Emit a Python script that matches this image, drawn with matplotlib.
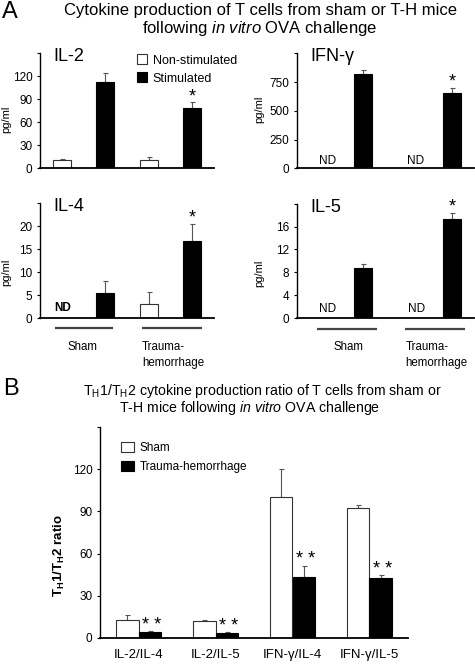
import numpy as np
import matplotlib
matplotlib.use('Agg')
import matplotlib.pyplot as plt
from matplotlib.patches import Patch
from matplotlib.transforms import blended_transform_factory

plt.rcParams['font.family'] = ['Liberation Sans', 'DejaVu Sans']
plt.rcParams['mathtext.fontset'] = 'custom'
plt.rcParams['mathtext.rm'] = 'Liberation Sans'
plt.rcParams['mathtext.it'] = 'Liberation Sans:italic'
plt.rcParams['mathtext.bf'] = 'Liberation Sans:bold'

# ---------------- data ----------------
groups = ['Sham', 'Trauma-hemorrhage']
series_a = ['Non-stimulated', 'Stimulated']

il2_nonstim = [11, 11]
il2_nonstim_err = [1.7, 3.5]
il2_stim = [112, 78]
il2_stim_err = [12, 8]

ifn_nonstim = [np.nan, np.nan]          # ND
ifn_nonstim_err = [0, 0]
ifn_stim = [816, 657]
ifn_stim_err = [43, 40]

il4_nonstim = [np.nan, 3.1]             # sham ND
il4_nonstim_err = [0, 2.6]
il4_stim = [5.6, 16.7]
il4_stim_err = [2.5, 3.8]

il5_nonstim = [np.nan, np.nan]          # ND
il5_nonstim_err = [0, 0]
il5_stim = [8.8, 17.3]
il5_stim_err = [0.7, 1.1]

stim_sig = [False, True]

il2_ticks = [0, 30, 60, 90, 120, 150]
ifn_ticks = [0, 250, 500, 750, 1000]
il4_ticks = [0, 5, 10, 15, 20, 25]
il5_ticks = [0, 4, 8, 12, 16, 20]

ratio_labels = ['IL-2/IL-4', 'IL-2/IL-5', 'IFN-γ/IL-4', 'IFN-γ/IL-5']
series_b = ['Sham', 'Trauma-hemorrhage']
sham_ratio = [12.9, 12.1, 100.5, 92.6]
sham_ratio_err = [3.1, 0.4, 19.5, 1.9]
th_ratio = [4.3, 3.8, 43.3, 42.6]
th_ratio_err = [0.4, 0.3, 8.1, 1.9]
th_sig = [True, True, True, True]
ratio_ticks = [0, 30, 60, 90, 120, 150]

# ---------------- figure ----------------
W, H = 475, 665
fig = plt.figure(figsize=(W / 100, H / 100), dpi=100)


def box(x0, y0, x1, y1):
    return [x0 / W, 1 - y1 / H, (x1 - x0) / W, (y1 - y0) / H]


ERR_C = '#555555'


def style_axis(ax, ticks, ylab_xy, ylabel='pg/ml', ylab_size=8):
    for s in ['top', 'right']:
        ax.spines[s].set_visible(False)
    ax.spines['left'].set_linewidth(1.0)
    ax.spines['bottom'].set_linewidth(1.3)
    ax.set_xlim(-0.5, 3.5)
    ax.set_ylim(ticks[0], ticks[-1])
    ax.set_yticks(ticks)
    ax.set_yticklabels([str(t) for t in ticks[:-1]] + [''])
    ax.set_xticks([])
    ax.tick_params(axis='y', direction='out', length=2.5, width=0.8,
                   labelsize=8.5, pad=3)
    ax.set_ylabel(ylabel, fontsize=ylab_size)
    ax.yaxis.set_label_coords(*ylab_xy)


def draw_a(ax, nonstim, nonstim_err, stim, stim_err, ticks, title,
           ylab_xy, nd_x, nd_y, nd_bold=False):
    pos_ns = np.array([0, 2])
    pos_s = np.array([1, 3])
    ns = np.array(nonstim, dtype=float)
    ok = ~np.isnan(ns)
    w = 0.41
    ax.bar(pos_ns[ok], ns[ok], width=w, color='white', edgecolor='#333333',
           linewidth=0.8, zorder=2)
    ax.errorbar(pos_ns[ok], ns[ok],
                yerr=[np.zeros(ok.sum()), np.array(nonstim_err)[ok]],
                fmt='none', ecolor=ERR_C, elinewidth=0.8, capsize=1.8,
                capthick=0.8, zorder=1)
    ax.bar(pos_s, stim, width=w, color='black', edgecolor='black',
           linewidth=0.8, zorder=2)
    ax.errorbar(pos_s, stim, yerr=[np.zeros(2), stim_err], fmt='none',
                ecolor=ERR_C, elinewidth=0.8, capsize=1.8, capthick=0.8,
                zorder=1)
    for p, v, e, sig in zip(pos_s, stim, stim_err, stim_sig):
        if sig:
            ax.annotate('*', (p, v + e), xytext=(0, -2),
                        textcoords='offset points', ha='center',
                        va='bottom', fontsize=13, clip_on=False)
    trans = blended_transform_factory(ax.transData, ax.transAxes)
    for i in np.where(~ok)[0]:
        ax.text(pos_ns[i] + nd_x, nd_y, 'ND', transform=trans, ha='center',
                va='center', fontsize=8.5,
                fontweight='bold' if nd_bold else 'normal')
    ax.text(0.075, 0.93, title, transform=ax.transAxes, fontsize=13,
            ha='left', va='baseline')
    style_axis(ax, ticks, ylab_xy)


ax1 = fig.add_axes(box(40, 53.3, 214, 168.3))
ax2 = fig.add_axes(box(297, 53.3, 474, 168.3))
ax3 = fig.add_axes(box(40, 203.3, 214, 318.3))
ax4 = fig.add_axes(box(297, 203.5, 474, 318.5))

draw_a(ax1, il2_nonstim, il2_nonstim_err, il2_stim, il2_stim_err, il2_ticks,
       'IL-2', (-0.163, 0.43), 0, 0)
draw_a(ax2, ifn_nonstim, ifn_nonstim_err, ifn_stim, ifn_stim_err, ifn_ticks,
       'IFN-γ', (-0.183, 0.51), 0.19, 0.06)
draw_a(ax3, il4_nonstim, il4_nonstim_err, il4_stim, il4_stim_err, il4_ticks,
       'IL-4', (-0.163, 0.40), 0.03, 0.09, nd_bold=True)
draw_a(ax4, il5_nonstim, il5_nonstim_err, il5_stim, il5_stim_err, il5_ticks,
       'IL-5', (-0.183, 0.39), 0.2, 0.08)

# legend panel A
h_a = [Patch(facecolor='white', edgecolor='#333333', linewidth=0.8),
       Patch(facecolor='black', edgecolor='black', linewidth=0.8)]
ax1.legend(h_a, series_a, loc='upper left', bbox_to_anchor=(0.555, 0.99),
           frameon=False, fontsize=9, handlelength=0.85, handleheight=0.85,
           handletextpad=0.45, labelspacing=0.45, borderpad=0,
           borderaxespad=0)

# group lines & labels under the bottom panels
for ax, lines, sham_x, th_x in [
        (ax3, [(-0.15, 1.17), (1.84, 3.22)], 0.47, 1.84),
        (ax4, [(-0.04, 1.30), (1.95, 3.30)], 0.67, 1.95)]:
    trans = blended_transform_factory(ax.transData, ax.transAxes)
    for x0, x1 in lines:
        ax.plot([x0, x1], [-0.087, -0.087], transform=trans, color='#444444',
                lw=1.6, clip_on=False, solid_capstyle='butt')
    ax.text(sham_x, -0.247, groups[0], transform=trans, ha='center',
            va='center', fontsize=8.3)
    ax.text(th_x, -0.247, 'Trauma-', transform=trans, ha='left',
            va='center', fontsize=8.3)
    ax.text(th_x, -0.39, 'hemorrhage', transform=trans, ha='left',
            va='center', fontsize=8.3)

# panel letters & titles
fig.text(2 / W, 1 - 18 / H, 'A', fontsize=17, ha='left', va='baseline')
fig.text(260 / W, 1 - 15 / H, 'Cytokine production of T cells from sham or T-H mice',
         fontsize=12, ha='center', va='baseline')
fig.text(260 / W, 1 - 33.5 / H, r'following $\mathit{in\ vitro}$ OVA challenge',
         fontsize=12, ha='center', va='baseline')

fig.text(3 / W, 1 - 395 / H, 'B', fontsize=17, ha='left', va='baseline')
fig.text(262 / W, 1 - 395 / H,
         r'T$_\mathrm{H}$1/T$_\mathrm{H}$2 cytokine production ratio of T cells from sham or',
         fontsize=10.2, ha='center', va='baseline')
fig.text(250 / W, 1 - 412 / H, r'T-H mice following $\mathit{in\ vitro}$ OVA challenge',
         fontsize=10.2, ha='center', va='baseline')

# ---------------- panel B ----------------
axb = fig.add_axes(box(100, 427, 408, 638))
xb = np.arange(len(ratio_labels))
wb = 0.29
axb.bar(xb - wb / 2, sham_ratio, width=wb, color='white', edgecolor='#333333',
        linewidth=0.8, zorder=2)
axb.errorbar(xb - wb / 2, sham_ratio, yerr=[np.zeros(4), sham_ratio_err],
             fmt='none', ecolor=ERR_C, elinewidth=0.8, capsize=1.8,
             capthick=0.8, zorder=1)
axb.bar(xb + wb / 2, th_ratio, width=wb, color='black', edgecolor='black',
        linewidth=0.8, zorder=2)
axb.errorbar(xb + wb / 2, th_ratio, yerr=[np.zeros(4), th_ratio_err],
             fmt='none', ecolor=ERR_C, elinewidth=0.8, capsize=1.8,
             capthick=0.8, zorder=1)
for p, v, e, sig in zip(xb + wb / 2, th_ratio, th_ratio_err, th_sig):
    if sig:
        axb.annotate('* *', (p, v + e), xytext=(1.5, -2),
                     textcoords='offset points', ha='center', va='bottom',
                     fontsize=13)
style_axis(axb, ratio_ticks, (-0.107, 0.39),
           ylabel=r'T$_\mathbf{H}$1/T$_\mathbf{H}$2 ratio', ylab_size=9.5)
axb.yaxis.label.set_fontweight('bold')
axb.set_xticks(xb)
axb.set_xticklabels(ratio_labels, fontsize=9.5)
axb.tick_params(axis='x', length=0, pad=8)

h_b = [Patch(facecolor='white', edgecolor='#333333', linewidth=0.8),
       Patch(facecolor='black', edgecolor='black', linewidth=0.8)]
axb.legend(h_b, series_b, loc='upper left', bbox_to_anchor=(0.069, 0.93),
           frameon=False, fontsize=8.5, handlelength=1.05, handleheight=1.0,
           handletextpad=0.5, labelspacing=0.55, borderpad=0,
           borderaxespad=0)

fig.savefig('out.png', dpi=100)
